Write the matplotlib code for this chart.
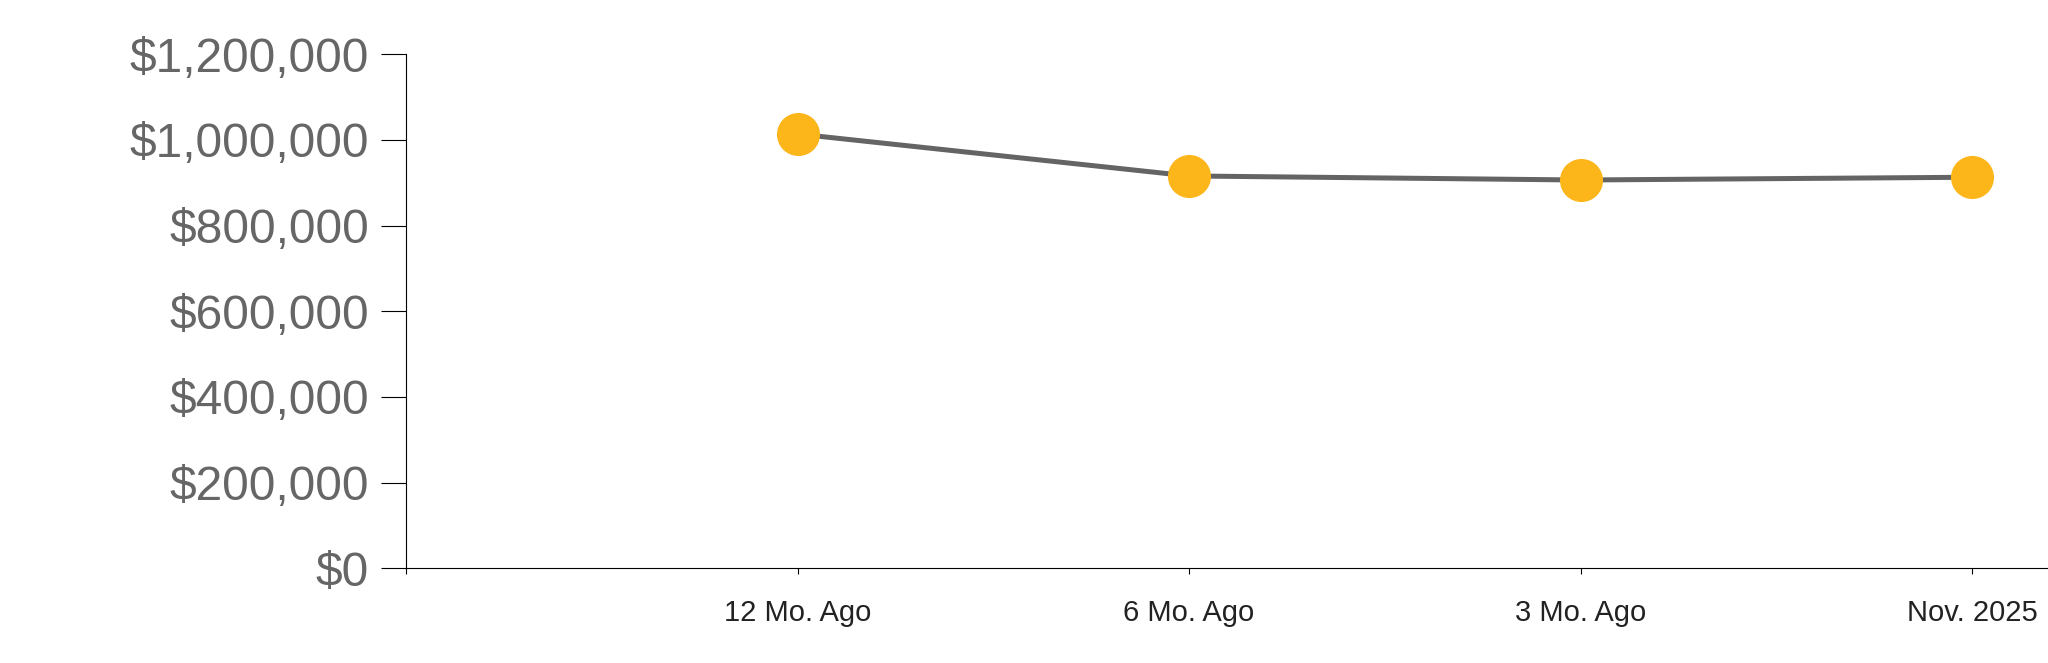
import matplotlib.pyplot as plt
from matplotlib.ticker import FuncFormatter

# median price trend
periods = ['12 Mo. Ago', '6 Mo. Ago', '3 Mo. Ago', 'Nov. 2025']
prices = [1014000, 916000, 906500, 913000]
y_ticks = [0, 200000, 400000, 600000, 800000, 1000000, 1200000]

plt.rcParams['font.family'] = ['Liberation Sans', 'DejaVu Sans']

fig = plt.figure(figsize=(20.48, 6.63), dpi=100)
ax = fig.add_axes([406 / 2048, 94.7 / 663, 1 - 406 / 2048, (568.3 - 54.3) / 663])

xs = list(range(1, len(periods) + 1))
ax.plot(xs, prices, color='#646464', linewidth=3.6, zorder=2)
ax.plot(xs, prices, linestyle='none', marker='o', markersize=30,
        markerfacecolor='#fcb61a', markeredgecolor='#fcb61a', zorder=3,
        clip_on=False)

ax.set_xlim(0, 4.194)
ax.set_ylim(0, 1200000)

ax.set_xticks([0] + xs)
ax.set_xticklabels([''] + periods)
ax.set_yticks(y_ticks)
ax.yaxis.set_major_formatter(FuncFormatter(lambda v, p: '${:,.0f}'.format(v)))

ax.tick_params(axis='y', length=18, width=0.8, pad=8.5, labelsize=34.5,
               labelcolor='#666666', color='black')
ax.tick_params(axis='x', length=4.3, width=0.8, pad=18, labelsize=21,
               labelcolor='#222222', color='black')

for side in ['top', 'right']:
    ax.spines[side].set_visible(False)
for side in ['left', 'bottom']:
    ax.spines[side].set_linewidth(0.8)
    ax.spines[side].set_color('black')

fig.savefig('out.png', dpi=100, facecolor='white')
